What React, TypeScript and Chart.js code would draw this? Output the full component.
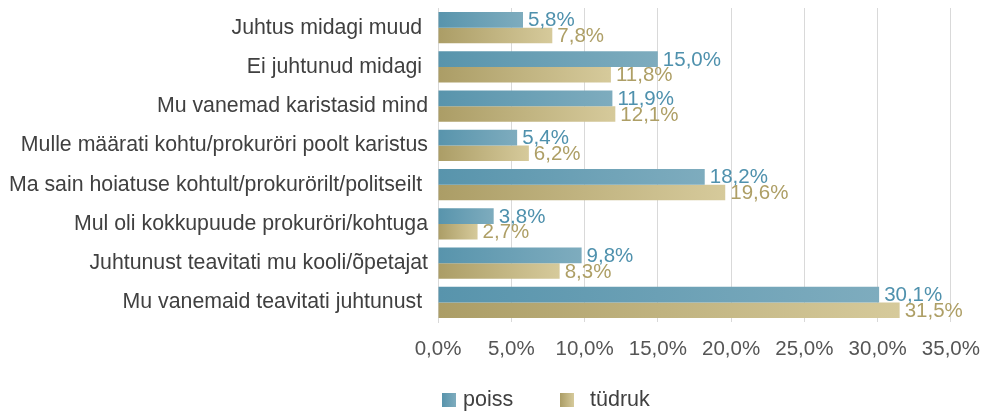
import React, { useEffect, useRef } from "react";
import { Chart, registerables } from "chart.js";

Chart.register(...registerables);

const categories = [
  "Juhtus midagi muud ",
  "Ei juhtunud midagi ",
  "Mu vanemad karistasid mind",
  "Mulle määrati kohtu/prokuröri poolt karistus",
  "Ma sain hoiatuse kohtult/prokurörilt/politseilt ",
  "Mul oli kokkupuude prokuröri/kohtuga",
  "Juhtunust teavitati mu kooli/õpetajat",
  "Mu vanemaid teavitati juhtunust ",
];
const poiss = [5.8, 15.0, 11.9, 5.4, 18.2, 3.8, 9.8, 30.1];
const tudruk = [7.8, 11.8, 12.1, 6.2, 19.6, 2.7, 8.3, 31.5];
const seriesNames = ["poiss", "tüdruk"];
const xTicks = [0, 5, 10, 15, 20, 25, 30, 35];

const FONT = "'Liberation Sans', Arial, Helvetica, sans-serif";
const FS = 20.5;
const FS_Y = 21.3;

const gradStops = [
  ["#5894ac", "#7eacbe"],
  ["#ab9d66", "#d6ca9b"],
];
const labelColors = ["#4f91ad", "#ae9f66"];

const fmt = (v: number) => v.toFixed(1).replace(".", ",") + "%";

function barGradient(si: number) {
  return (ctx: any) => {
    const chart = ctx.chart;
    if (!chart.chartArea || ctx.type !== "data") return gradStops[si][0];
    const xs = chart.scales.x;
    const x0 = xs.getPixelForValue(0);
    const x1 = xs.getPixelForValue(ctx.raw);
    if (!isFinite(x0) || !isFinite(x1) || x1 - x0 < 1) return gradStops[si][0];
    const g = chart.ctx.createLinearGradient(x0, 0, x1, 0);
    g.addColorStop(0, gradStops[si][0]);
    g.addColorStop(1, gradStops[si][1]);
    return g;
  };
}

const valueLabels = {
  id: "valueLabels",
  afterDatasetsDraw(chart: any) {
    const c = chart.ctx;
    c.save();
    c.font = `${FS}px ${FONT}`;
    c.textBaseline = "middle";
    c.textAlign = "left";
    chart.data.datasets.forEach((ds: any, di: number) => {
      const meta = chart.getDatasetMeta(di);
      meta.data.forEach((bar: any, i: number) => {
        c.fillStyle = labelColors[di];
        c.fillText(fmt(ds.data[i]), bar.x + 5, bar.y + 1);
      });
    });
    c.restore();
  },
};

const customLegend = {
  id: "customLegend",
  afterDraw(chart: any) {
    const c = chart.ctx;
    const left = chart.chartArea.left;
    const y = chart.height - 13;
    const items = [
      { x: left + 4, tx: left + 25 },
      { x: left + 122, tx: left + 152 },
    ];
    c.save();
    c.font = `21.5px ${FONT}`;
    c.textBaseline = "middle";
    c.textAlign = "left";
    items.forEach((it, i) => {
      const g = c.createLinearGradient(it.x, 0, it.x + 14, 0);
      g.addColorStop(0, gradStops[i][0]);
      g.addColorStop(1, gradStops[i][1]);
      c.fillStyle = g;
      c.fillRect(it.x, y - 7, 14, 14);
      c.fillStyle = "#404040";
      c.fillText(seriesNames[i], it.tx, y);
    });
    c.restore();
  },
};

export default function App() {
  const ref = useRef<HTMLCanvasElement>(null);
  useEffect(() => {
    if (!ref.current) return;
    const chart = new Chart(ref.current, {
      type: "bar",
      data: {
        labels: categories,
        datasets: [
          { label: seriesNames[0], data: poiss, backgroundColor: barGradient(0) },
          { label: seriesNames[1], data: tudruk, backgroundColor: barGradient(1) },
        ],
      },
      options: {
        indexAxis: "y",
        animation: false,
        responsive: true,
        maintainAspectRatio: false,
        layout: { padding: { top: 8, right: 44, bottom: 44, left: 0 } },
        datasets: { bar: { categoryPercentage: 0.8, barPercentage: 1.0 } },
        plugins: { legend: { display: false }, tooltip: { enabled: false } },
        scales: {
          x: {
            min: 0,
            max: 35,
            afterBuildTicks: (scale: any) => {
              scale.ticks = xTicks.map((v) => ({ value: v }));
            },
            ticks: {
              callback: (v: any) => fmt(Number(v)),
              color: "#555555",
              font: { family: FONT, size: FS },
              padding: 15,
              maxRotation: 0,
            },
            grid: { color: "#d9d9d9", lineWidth: 1, drawTicks: false },
            border: { display: false },
            afterFit: (scale: any) => {
              scale.height = 47;
            },
          },
          y: {
            ticks: {
              color: "#404040",
              font: { family: FONT, size: FS_Y },
              padding: 10,
            },
            grid: { display: false, drawTicks: false },
            border: { display: true, color: "#d9d9d9" },
            afterFit: (scale: any) => {
              scale.width = 438;
              scale.paddingTop = 0;
              scale.paddingBottom = 0;
            },
          },
        },
      },
      plugins: [valueLabels, customLegend],
    });
    return () => chart.destroy();
  }, []);
  return (
    <div style={{ position: "fixed", left: 0, top: 0, width: 995, height: 413, background: "#fff" }}>
      <canvas ref={ref} />
    </div>
  );
}
